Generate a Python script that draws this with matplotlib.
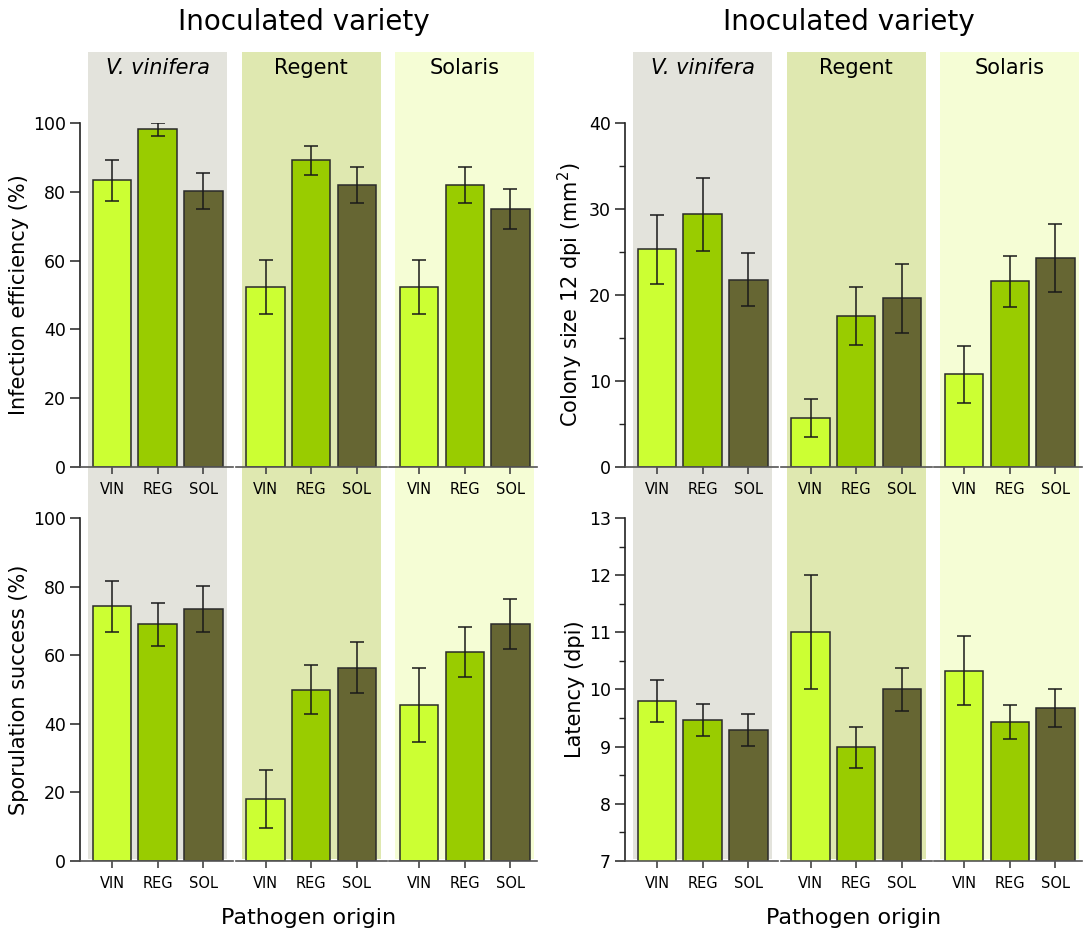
import numpy as np
import matplotlib
matplotlib.use('Agg')
import matplotlib.pyplot as plt
import matplotlib.patches as patches
import matplotlib.transforms as mtransforms

# inoculated varieties (groups) and pathogen origins (bars)
varieties = ['V. vinifera', 'Regent', 'Solaris']
origins = ['VIN', 'REG', 'SOL']

infection = [[83.3, 98.2, 80.2], [52.3, 89.2, 82.0], [52.3, 82.0, 75.0]]
infection_err = [[5.9, 1.9, 5.3], [7.8, 4.2, 5.2], [7.8, 5.2, 5.8]]

colony = [[25.3, 29.4, 21.8], [5.7, 17.55, 19.6], [10.8, 21.6, 24.35]]
colony_err = [[4.05, 4.25, 3.1], [2.2, 3.4, 4.0], [3.3, 2.95, 3.95]]

sporulation = [[74.25, 69.0, 73.4], [18.1, 49.95, 56.4], [45.4, 60.8, 69.0]]
sporulation_err = [[7.5, 6.3, 6.65], [8.4, 7.1, 7.35], [10.85, 7.3, 7.25]]

latency = [[9.80, 9.47, 9.30], [11.0, 8.99, 10.0], [10.33, 9.43, 9.68]]
latency_err = [[0.36, 0.28, 0.28], [1.0, 0.36, 0.37], [0.6, 0.3, 0.33]]

bar_colors = ['#ccff33', '#99cc00', '#666633']
shade_colors = ['#e3e3dc', '#dfe8b0', '#f5fdd5']

W, H = 1085, 933
fig = plt.figure(figsize=(W / 100, H / 100), dpi=100)

gs = 3.36      # distance between groups
XMIN, XMAX = -0.70, 9.30


def px_axes(left, top, right, bottom):
    a = fig.add_axes([left / W, 1 - bottom / H, (right - left) / W, (bottom - top) / H])
    a.set_facecolor('none')
    return a


def panel(ax, vals, errs, ylim, yticks, ylabel, minor=None):
    xs, labels = [], []
    for g in range(3):
        x = g * gs + np.arange(3)
        ax.bar(x, vals[g], width=0.84, color=bar_colors, edgecolor='#2a2a2a',
               linewidth=1.1, zorder=2)
        ax.errorbar(x, vals[g], yerr=errs[g], fmt='none', ecolor='#1a1a1a',
                    elinewidth=1.1, capsize=5, capthick=1.1, zorder=3)
        xs.extend(x)
        labels.extend(origins)
    ax.set_xlim(XMIN, XMAX)
    ax.set_ylim(*ylim)
    ax.set_yticks(yticks)
    if minor is not None:
        ax.set_yticks(minor, minor=True)
    ax.set_xticks(xs)
    ax.set_xticklabels(labels)
    for s in ['top', 'right', 'bottom']:
        ax.spines[s].set_visible(False)
    ax.spines['left'].set_color('#222222')
    ax.spines['left'].set_linewidth(1.2)
    ax.tick_params(axis='x', length=5, width=1.2, color='#444444', labelsize=10.5, pad=6)
    ax.tick_params(axis='y', which='major', length=7, width=1.1, color='#222222',
                   labelsize=12.5, pad=3)
    ax.tick_params(axis='y', which='minor', length=4, width=1.0, color='#222222')
    ax.set_ylabel(ylabel, fontsize=15, labelpad=3)
    # broken baseline, one segment per group
    tr = mtransforms.blended_transform_factory(ax.transData, ax.transAxes)
    cuts = [XMIN, gs - 0.68, 2 * gs - 0.68, XMAX]
    for i in range(3):
        a0 = cuts[i] + (0.03 if i > 0 else 0)
        a1 = cuts[i + 1] - (0.03 if i < 2 else 0)
        ax.plot([a0, a1], [0, 0], color='#555555', lw=1.2, transform=tr,
                clip_on=False, zorder=4)


ax_tl = px_axes(80, 123, 537, 467)
ax_tr = px_axes(625, 123, 1082, 467)
ax_bl = px_axes(80, 518, 537, 861)
ax_br = px_axes(625, 518, 1082, 861)

panel(ax_tl, infection, infection_err, (0, 100), range(0, 101, 20),
      'Infection efficiency (%)')
panel(ax_tr, colony, colony_err, (0, 40), range(0, 41, 10),
      'Colony size 12 dpi (mm$^2$)', minor=[5, 15, 25, 35])
panel(ax_bl, sporulation, sporulation_err, (0, 100), range(0, 101, 20),
      'Sporulation success (%)')
panel(ax_br, latency, latency_err, (7, 13), range(7, 14),
      'Latency (dpi)', minor=np.arange(7.5, 13, 1.0))

# shaded columns for the inoculated varieties, spanning both rows
y_top = 1 - 52 / H
y_bot = 1 - 859 / H
for ax_top in [ax_tl, ax_tr]:
    tr = mtransforms.blended_transform_factory(ax_top.transData, fig.transFigure)
    for g in range(3):
        x0 = g * gs - 0.52
        rect = patches.Rectangle((x0, y_bot), 3.04, y_top - y_bot, transform=tr,
                                 facecolor=shade_colors[g], edgecolor='none', zorder=-1)
        fig.add_artist(rect)
        fig.text(g * gs + 1, 1 - 68 / H, varieties[g], transform=tr, ha='center',
                 va='center', fontsize=15,
                 fontstyle='italic' if g == 0 else 'normal')
    ctr = mtransforms.blended_transform_factory(ax_top.transAxes, fig.transFigure)
    fig.text(0.49, 1 - 22 / H, 'Inoculated variety', transform=ctr, ha='center',
             va='center', fontsize=20)

for ax_b in [ax_bl, ax_br]:
    ctr = mtransforms.blended_transform_factory(ax_b.transAxes, fig.transFigure)
    fig.text(0.5, 1 - 918 / H, 'Pathogen origin', transform=ctr, ha='center',
             va='center', fontsize=16)

fig.savefig('out.png', dpi=100)
